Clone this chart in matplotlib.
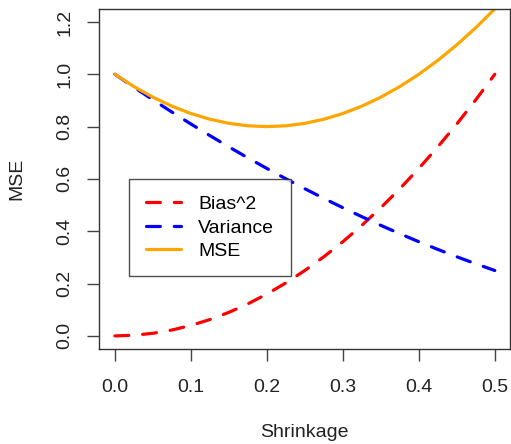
import matplotlib
matplotlib.use("Agg")
import matplotlib.pyplot as plt

# values, shrinkage 0 .. 0.5 in steps of 0.025
shrinkage = [0.0, 0.025, 0.05, 0.075, 0.1, 0.125, 0.15, 0.175, 0.2, 0.225, 0.25,
             0.275, 0.3, 0.325, 0.35, 0.375, 0.4, 0.425, 0.45, 0.475, 0.5]
bias2 = [0.0, 0.0025, 0.01, 0.0225, 0.04, 0.0625, 0.09, 0.1225, 0.16, 0.2025, 0.25,
         0.3025, 0.36, 0.4225, 0.49, 0.5625, 0.64, 0.7225, 0.81, 0.9025, 1.0]
variance = [1.0, 0.9506, 0.9025, 0.8556, 0.81, 0.7656, 0.7225, 0.6806, 0.64, 0.6006, 0.5625,
            0.5256, 0.49, 0.4556, 0.4225, 0.3906, 0.36, 0.3306, 0.3025, 0.2756, 0.25]
mse = [1.0, 0.9531, 0.9125, 0.8781, 0.85, 0.8281, 0.8125, 0.8031, 0.8, 0.8031, 0.8125,
       0.8281, 0.85, 0.8781, 0.9125, 0.9531, 1.0, 1.0531, 1.1125, 1.1781, 1.25]

xticks = [0.0, 0.1, 0.2, 0.3, 0.4, 0.5]
yticks = [0.0, 0.2, 0.4, 0.6, 0.8, 1.0, 1.2]

plt.rcParams["font.family"] = ["Liberation Sans", "DejaVu Sans"]
plt.rcParams["lines.scale_dashes"] = False

fig = plt.figure(figsize=(5.11, 4.44), dpi=100)
ax = fig.add_axes([0.1937, 0.214, 0.8043, 0.766])

lw = 2.3
ax.plot(shrinkage, bias2, color="#FF0000", lw=lw, dashes=(10, 10),
        dash_capstyle="round", label="Bias^2")
ax.plot(shrinkage, variance, color="#0000FF", lw=lw, dashes=(10, 10),
        dash_capstyle="round", label="Variance")
ax.plot(shrinkage, mse, color="#FFA500", lw=lw, solid_capstyle="round",
        label="MSE")

ax.set_xlim(-0.021, 0.52)
ax.set_ylim(-0.05, 1.25)
ax.set_xticks(xticks)
ax.set_xticklabels([f"{v:.1f}" for v in xticks])
ax.set_yticks(yticks)
ax.set_yticklabels([f"{v:.1f}" for v in yticks], rotation=90, va="center")

for s in ax.spines.values():
    s.set_color("#333333")
    s.set_linewidth(1.0)
ax.tick_params(axis="both", length=8.5, width=1.0, color="#444444",
               labelsize=14, labelcolor="#222222")
ax.tick_params(axis="x", pad=13)
ax.tick_params(axis="y", pad=10)

ax.set_xlabel("Shrinkage", fontsize=14, color="#222222", labelpad=20)
ax.set_ylabel("MSE", fontsize=14, color="#222222", labelpad=22)

leg = ax.legend(loc="upper left", bbox_to_anchor=(0.073, 0.5), fontsize=14,
                frameon=True, fancybox=False, edgecolor="#222222",
                handlelength=1.85, handletextpad=0.85, labelspacing=0.3,
                borderpad=0.85, borderaxespad=0)
leg.get_frame().set_linewidth(1.0)

fig.savefig("out.png", dpi=100)
